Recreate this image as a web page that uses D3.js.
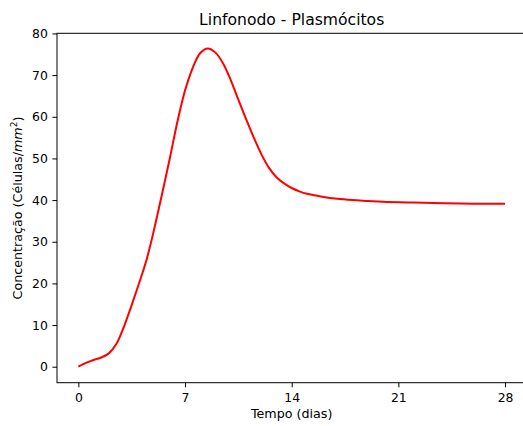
<!DOCTYPE html>
<html><head><meta charset="utf-8">
<script src="https://cdn.jsdelivr.net/npm/d3@7"></script>
<style>body{margin:0;background:#fff}svg{display:block}text{font-family:"DejaVu Sans",sans-serif;fill:#000}</style>
</head><body><svg id="c" width="523" height="426"></svg>
<script>
const tempo = [0,0.5,1,1.5,2,2.5,3,3.5,4,4.5,5,5.5,6,6.5,7,7.5,8,8.5,9,9.5,10,10.5,11,11.5,12,12.5,13,13.5,14,14.5,15,16,17,18,19,20,22,24,26,28];
const plasmocitos = [0,0.9,1.6,2.2,3.2,5.5,9.7,14.8,20.2,26.0,33.4,41.6,50.0,58.8,66.3,71.7,75.3,76.4,75.4,72.8,68.8,64.1,59.5,55.1,51.1,47.8,45.5,44.0,42.9,42.1,41.5,40.8,40.3,40.0,39.8,39.6,39.4,39.25,39.15,39.1];
const xTicks = [0,7,14,21,28];
const yTicks = [0,10,20,30,40,50,60,70,80];

const svg = d3.select("#c");
const L=57, R=526.4, T=33.3, B=382.7;
const x = d3.scaleLinear().domain([-1.4,29.4]).range([L,R]);
const y = d3.scaleLinear().domain([-3.84,80.04]).range([B,T]);

const data = tempo.map((t,i)=>[t,plasmocitos[i]]);
svg.append("path").datum(data)
  .attr("fill","none").attr("stroke","#ff0000").attr("stroke-width",2)
  .attr("d", d3.line().x(d=>x(d[0])).y(d=>y(d[1])).curve(d3.curveCatmullRom.alpha(0.5)));

const fs = "12.4px";
const ax = svg.append("g").attr("transform",`translate(0,${B})`)
  .call(d3.axisBottom(x).tickValues(xTicks).tickSize(4.6).tickPadding(5.5));
const ay = svg.append("g").attr("transform",`translate(${L},0)`)
  .call(d3.axisLeft(y).tickValues(yTicks).tickSize(4.6).tickPadding(4.6));
[ax,ay].forEach(g=>{
  g.select(".domain").remove();
  g.selectAll("line").attr("stroke","#000").attr("stroke-width",1);
  g.selectAll("text").attr("font-size",fs).attr("font-family","DejaVu Sans").attr("fill","#000");
});
svg.append("rect").attr("x",L).attr("y",T).attr("width",R-L).attr("height",B-T)
  .attr("fill","none").attr("stroke","#000").attr("stroke-width",1);

svg.append("text").attr("x",(L+R)/2).attr("y",25).attr("text-anchor","middle")
  .attr("font-size","15.6px").text("Linfonodo - Plasmócitos");
svg.append("text").attr("x",(L+R)/2).attr("y",418).attr("text-anchor","middle")
  .attr("font-size","12.7px").text("Tempo (dias)");
const yl = svg.append("text").attr("transform",`translate(22,${(T+B)/2}) rotate(-90)`)
  .attr("text-anchor","middle").attr("font-size","12.7px");
yl.append("tspan").text("Concentração (Células/");
yl.append("tspan").attr("font-style","italic").text("mm");
yl.append("tspan").attr("font-size","9px").attr("dy","-5").text("2");
yl.append("tspan").attr("dy","5").text(")");
</script></body></html>
